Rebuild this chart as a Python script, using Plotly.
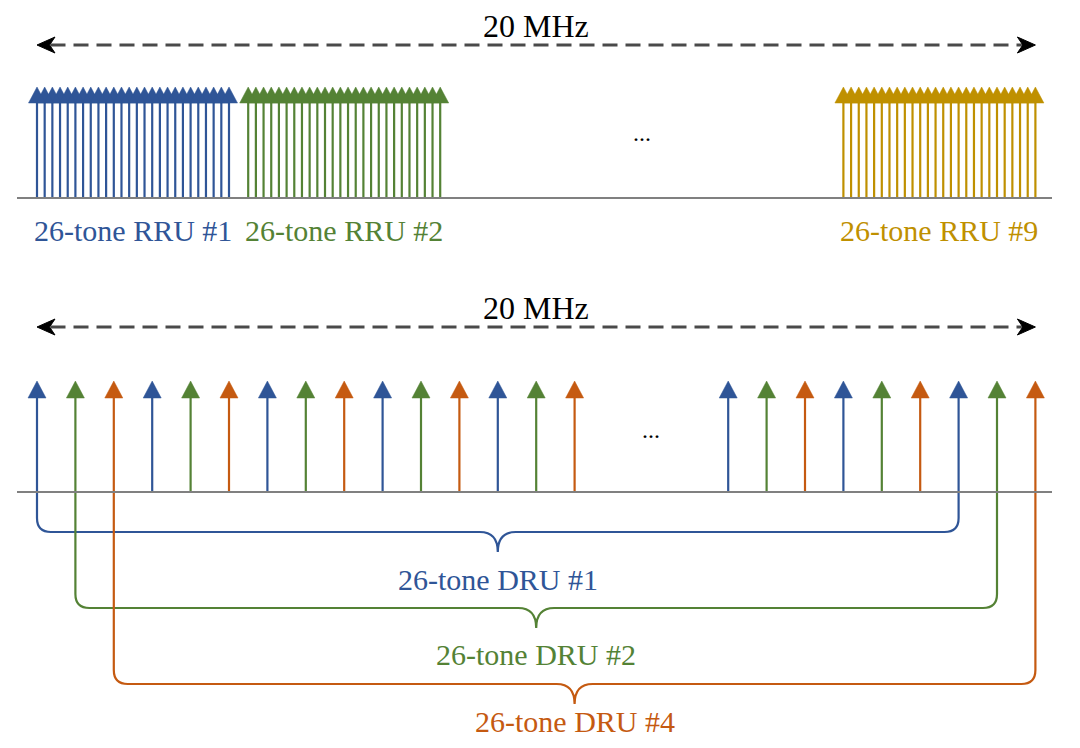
import numpy as np
import plotly.graph_objects as go

# tone plan (subcarrier index) of the two 20 MHz allocations
TONES_PER_RU = 26
rru_labels = ["26-tone RRU #1", "26-tone RRU #2", "26-tone RRU #9"]
rru_first_tone = [0, 27.5, 105]
rru_colors = ["#2F5597", "#548235", "#BF9000"]

dru_tones = [0, 5, 10, 15, 20, 25, 30, 35, 40, 45, 50, 55, 60, 65, 70,
             90, 95, 100, 105, 110, 115, 120, 125, 130]
dru_labels = ["26-tone DRU #1", "26-tone DRU #2", "26-tone DRU #4"]
dru_first_tone = [0, 5, 10]
dru_last_tone = [120, 125, 130]
dru_colors = ["#2F5597", "#548235", "#C55A11"]

band_label = "20 MHz"
band_edges = [0, 130]

PX = 7.68          # pixels per tone
X0 = 37            # page pixel of tone 0
PAGE_PAD = 8       # body margin of the html page
W, H = 1080 - 2 * PAGE_PAD, 748 - 2 * PAGE_PAD
FONT = "Liberation Serif"

fig = go.Figure()


def add_arrows(xs, y_base, y_tip, head_h, half_w, color):
    lx, ly, hx, hy = [], [], [], []
    for x in xs:
        lx += [x, x, None]
        ly += [y_base, y_tip + head_h - 1, None]
        hx += [x - half_w, x, x + half_w, x - half_w, None]
        hy += [y_tip + head_h, y_tip, y_tip + head_h, y_tip + head_h, None]
    fig.add_trace(go.Scatter(x=lx, y=ly, mode="lines", hoverinfo="skip",
                             line=dict(color=color, width=2.2)))
    fig.add_trace(go.Scatter(x=hx, y=hy, mode="lines", fill="toself", hoverinfo="skip",
                             fillcolor=color, line=dict(color=color, width=0.5)))


def add_band(y):
    x0, x1 = band_edges
    ah = 18 / PX
    fig.add_shape(type="line", x0=x0 + ah * 0.75, x1=x1 - ah * 0.75, y0=y, y1=y,
                  line=dict(color="#4a4a4a", width=3, dash="15px,8px"))
    fig.add_shape(type="path", fillcolor="black", line=dict(color="black", width=1),
                  path=f"M {x0},{y} L {x0 + ah},{y - 8} L {x0 + ah * 0.7},{y} L {x0 + ah},{y + 8} Z")
    fig.add_shape(type="path", fillcolor="black", line=dict(color="black", width=1),
                  path=f"M {x1},{y} L {x1 - ah},{y - 8} L {x1 - ah * 0.7},{y} L {x1 - ah},{y + 8} Z")
    fig.add_annotation(x=(x0 + x1) / 2, y=y - 19, text=band_label, showarrow=False,
                       font=dict(family=FONT, size=32, color="black"))


def baseline(y):
    fig.add_shape(type="line", x0=(17 - X0) / PX, x1=(1052 - X0) / PX, y0=y, y1=y,
                  line=dict(color="#808080", width=2))


# ---- top: regular RUs ----
TOP_BASE = 198
add_band(45)
for label, first, color in zip(rru_labels, rru_first_tone, rru_colors):
    xs = first + np.arange(TONES_PER_RU)
    add_arrows(xs, TOP_BASE, 87, 16, 8.5 / PX, color)
    fig.add_annotation(x=first + (TONES_PER_RU - 1) / 2, y=230, text=label, showarrow=False,
                       font=dict(family=FONT, size=30, color=color))
baseline(TOP_BASE)
fig.add_annotation(x=(rru_first_tone[1] + TONES_PER_RU - 1 + rru_first_tone[2]) / 2, y=133,
                   text="...", showarrow=False, font=dict(family=FONT, size=24, color="black"))

# ---- bottom: distributed RUs ----
BOT_BASE = 492
add_band(327)
for i, color in enumerate(dru_colors):
    xs = [t for t in dru_tones if (t // 5) % 3 == i]
    add_arrows(xs, BOT_BASE, 381, 17, 9 / PX, color)
baseline(BOT_BASE)
fig.add_annotation(x=(dru_tones[14] + dru_tones[15]) / 2, y=430, text="...", showarrow=False,
                   font=dict(family=FONT, size=24, color="black"))

brace_y = [532, 608, 684]
label_y = [579, 654, 721]
for label, x0, x1, color, yb, ly in zip(dru_labels, dru_first_tone, dru_last_tone,
                                        dru_colors, brace_y, label_y):
    rx, ry = 14 / PX, 14
    w, d = 18 / PX, 20
    xm = (x0 + x1) / 2
    path = (f"M {x0},{BOT_BASE} L {x0},{yb - ry} Q {x0},{yb} {x0 + rx},{yb} "
            f"L {xm - w},{yb} Q {xm},{yb} {xm},{yb + d} Q {xm},{yb} {xm + w},{yb} "
            f"L {x1 - rx},{yb} Q {x1},{yb} {x1},{yb - ry} L {x1},{BOT_BASE}")
    fig.add_shape(type="path", path=path, line=dict(color=color, width=2.2), layer="below")
    fig.add_annotation(x=xm, y=ly, text=label, showarrow=False,
                       font=dict(family=FONT, size=30, color=color))

fig.update_layout(
    width=W, height=H,
    margin=dict(l=0, r=0, t=0, b=0),
    paper_bgcolor="white", plot_bgcolor="white",
    showlegend=False,
    xaxis=dict(range=[-(X0 - PAGE_PAD) / PX, (W - X0 + PAGE_PAD) / PX],
               visible=False, fixedrange=True),
    yaxis=dict(range=[H + PAGE_PAD, PAGE_PAD], visible=False, fixedrange=True),
)

fig.write_html("out.html")
